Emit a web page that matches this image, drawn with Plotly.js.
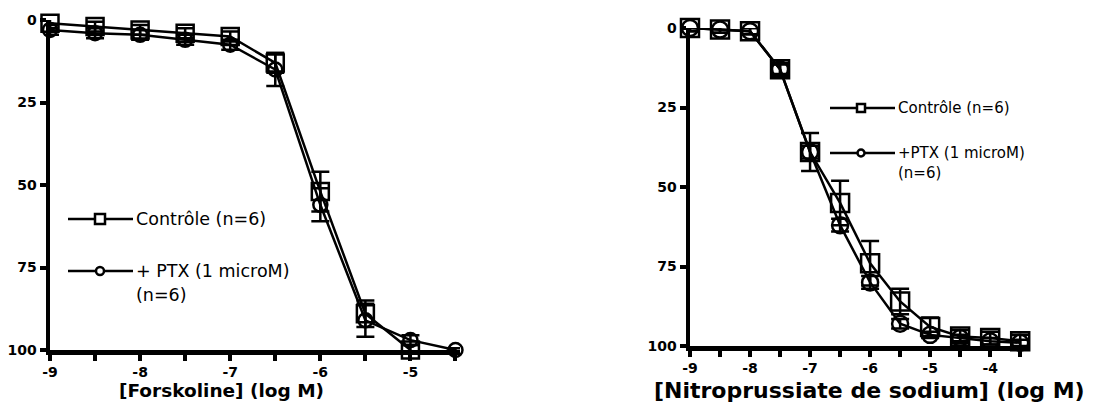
<!DOCTYPE html>
<html><head><meta charset="utf-8">
<script src="https://cdn.plot.ly/plotly-3.0.1.min.js"></script>
<style>html,body{margin:0;padding:0;background:#fff}#g{width:1099px;height:403px}</style>
</head><body><div id="g"></div>
<script>
// Left panel: Forskoline
const forskX = [-9, -8.5, -8, -7.5, -7, -6.5, -6, -5.5, -5];
const forskCtrl = [1, 2, 3, 4, 5, 13, 52, 89, 100];
const forskCtrlErr = [1.5, 1.5, 1.5, 1.5, 1.5, 3, 6, 4, 1.5];
const forskPtxX = [-9, -8.5, -8, -7.5, -7, -6.5, -6, -5.5, -5, -4.5];
const forskPtx = [3, 4, 4.5, 6, 7.5, 15, 56, 91, 97, 100];
const forskPtxErr = [1.5, 1.5, 1.5, 1.5, 1.5, 5, 5, 5, 1.5, 0.5];
// Right panel: Nitroprussiate de sodium
const snpX = [-9, -8.5, -8, -7.5, -7, -6.5, -6, -5.5, -5, -4.5, -4, -3.5];
const snpCtrl = [0, 0.5, 1, 13, 39, 55, 74, 86, 94, 97, 97.5, 98.5];
const snpCtrlErr = [1, 1, 1, 2, 6, 7, 7, 4, 3, 2, 2, 2];
const snpPtx = [0, 0.5, 1, 13, 39, 62, 80, 93, 96.5, 97.5, 98.5, 99];
const snpPtxErr = [1, 1, 1, 1.5, 2, 2, 2, 1.5, 1, 1, 1, 1];

const yTicks = [0, 25, 50, 75, 100];
const leftXTicks = [-9, -8.5, -8, -7.5, -7, -6.5, -6, -5.5, -5, -4.5];
const leftXText = ['-9', '', '-8', '', '-7', '', '-6', '', '-5', ''];
const rightXTicks = [-9, -8.5, -8, -7.5, -7, -6.5, -6, -5.5, -5, -4.5, -4, -3.5];
const rightXText = ['-9', '', '-8', '', '-7', '', '-6', '', '-5', '', '-4', ''];

const W = 1099, H = 403;
const px = x => x / W, py = y => 1 - y / H;

const lineW = 2.5;
function tr(x, y, err, sym, size, xa, ya, ew) {
  return {x: x, y: y, xaxis: xa, yaxis: ya, type: 'scatter', mode: 'lines+markers',
    line: {color: '#000', width: lineW},
    marker: {symbol: sym, size: size, color: '#000', line: {width: 2.5, color: '#000'}},
    error_y: {type: 'data', array: err, visible: true, color: '#000', thickness: 2.5, width: ew},
    cliponaxis: false, showlegend: false, hoverinfo: 'skip'};
}
const data = [
  tr(forskX, forskCtrl, forskCtrlErr, 'square-open', 17, 'x', 'y', 9),
  tr(forskPtxX, forskPtx, forskPtxErr, 'circle-open', 14, 'x', 'y', 9),
  tr(snpX, snpCtrl, snpCtrlErr, 'square-open', 18, 'x2', 'y2', 9),
  tr(snpX, snpPtx, snpPtxErr, 'circle-open', 16, 'x2', 'y2', 9)
];

const tickFont = {family: 'DejaVu Sans', size: 14, color: '#000', weight: 'bold'};
function xax(dom, rng, tv, tt, anchor) {
  return {domain: dom, range: rng, anchor: anchor, showgrid: false, zeroline: false,
    showline: true, linecolor: '#000', linewidth: 4.5, ticks: 'outside', ticklen: 6,
    tickwidth: 4, tickcolor: '#000', tickvals: tv, ticktext: tt, tickfont: tickFont};
}
function yax(dom, anchor) {
  return {domain: dom, range: [100, 0], anchor: anchor, showgrid: false, zeroline: false,
    showline: true, linecolor: '#000', linewidth: 4.5, ticks: 'outside', ticklen: 6,
    tickwidth: 4, tickcolor: '#000', tickvals: yTicks, ticktext: yTicks.map(String), tickfont: tickFont};
}

const shapes = [], annotations = [];
function legendItem(x0, x1, y, mx, sym, ms, text, fs) {
  shapes.push({type: 'line', xref: 'paper', yref: 'paper', x0: px(x0), x1: px(x1), y0: py(y), y1: py(y),
    line: {color: '#000', width: 2.5}});
  const h = ms / 2;
  shapes.push({type: sym, xref: 'paper', yref: 'paper', x0: px(mx - h), x1: px(mx + h), y0: py(y + h), y1: py(y - h),
    line: {color: '#000', width: 2.5}, fillcolor: '#fff'});
  annotations.push({xref: 'paper', yref: 'paper', x: px(x1 + 1), y: py(y), xanchor: 'left', yanchor: 'middle',
    text: text, showarrow: false, align: 'left', font: {family: 'DejaVu Sans', size: fs, color: '#000'}});
}
legendItem(68, 133, 219, 100, 'rect', 10, 'Contrôle (n=6)', 17.5);
legendItem(68, 133, 271, 100, 'circle', 8, '+ PTX (1 microM)', 17.5);
annotations.push({xref: 'paper', yref: 'paper', x: px(134), y: py(295), xanchor: 'left', yanchor: 'middle',
  text: '(n=6)', showarrow: false, font: {family: 'DejaVu Sans', size: 17.5, color: '#000'}});
legendItem(830, 895, 108, 861, 'rect', 8, 'Contrôle (n=6)', 15);
legendItem(830, 895, 153, 861, 'circle', 7, '+PTX (1 microM)', 15);
annotations.push({xref: 'paper', yref: 'paper', x: px(896), y: py(173), xanchor: 'left', yanchor: 'middle',
  text: '(n=6)', showarrow: false, font: {family: 'DejaVu Sans', size: 15, color: '#000'}});
annotations.push({xref: 'paper', yref: 'paper', x: px(221), y: py(390), xanchor: 'center', yanchor: 'middle',
  text: '[Forskoline] (log M)', showarrow: false, font: {family: 'DejaVu Sans', size: 18.5, color: '#000', weight: 'bold'}});
annotations.push({xref: 'paper', yref: 'paper', x: px(869), y: py(390), xanchor: 'center', yanchor: 'middle',
  text: '[Nitroprussiate de sodium] (log M)', showarrow: false, font: {family: 'DejaVu Sans', size: 22, color: '#000', weight: 'bold'}});

const layout = {
  width: W, height: H, margin: {l: 0, r: 0, t: 0, b: 0},
  paper_bgcolor: '#fff', plot_bgcolor: '#fff', showlegend: false,
  xaxis: xax([px(50), px(460)], [-9, -4.45], leftXTicks, leftXText, 'y'),
  yaxis: yax([py(350), py(20)], 'x'),
  xaxis2: xax([px(690), px(1028)], [-9, -3.37], rightXTicks, rightXText, 'y2'),
  yaxis2: yax([py(346), py(28)], 'x2'),
  shapes: shapes, annotations: annotations
};
Plotly.newPlot('g', data, layout, {staticPlot: true});
</script></body></html>
